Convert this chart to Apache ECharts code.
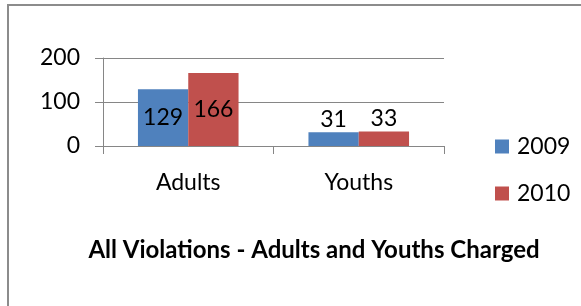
<!DOCTYPE html>
<html>
<head>
<meta charset="utf-8">
<script src="https://cdn.jsdelivr.net/npm/echarts@6/dist/echarts.min.js"></script>
<style>
  html, body { margin: 0; padding: 0; background: #fff; }
  #chart { width: 581px; height: 306px; }
</style>
</head>
<body>
<div id="chart"></div>
<script>
// chart data
var categories = ["Adults", "Youths"];
var values2009 = [129, 31];
var values2010 = [166, 33];
var seriesNames = ["2009", "2010"];
var yTicks = { min: 0, max: 200, step: 100 };

var font = "Lato, 'Open Sans', sans-serif";
var gridGray = "#868686";

// small bars get label on top, tall ones in the middle
function withLabels (vals) {
  return vals.map(function (v) {
    return {
      value: v,
      label: { position: v > 60 ? "inside" : "top", distance: 1 }
    };
  });
}

var chart = echarts.init(document.getElementById("chart"));
chart.setOption({
  animation: false,
  textStyle: { fontFamily: font },
  color: ["#4F81BD", "#C0504D"],
  graphic: [{
    type: "rect",
    shape: { x: 8, y: 5, width: 700, height: 500 },
    style: { fill: "none", stroke: "#8c8c8c", lineWidth: 2 },
    z: -1
  }],
  title: {
    text: "All Violations - Adults and Youths Charged",
    left: 309,
    top: 233,
    textAlign: "center",
    textStyle: { fontFamily: font, fontSize: 24, fontWeight: "bold", color: "#000" }
  },
  legend: {
    orient: "vertical",
    left: 490,
    top: 130,
    itemWidth: 14,
    itemHeight: 14,
    itemGap: 24,
    icon: "rect",
    textStyle: { fontFamily: font, fontSize: 23, color: "#000", padding: [0, 0, 0, 3] },
    data: seriesNames
  },
  grid: { left: 103, right: 137, top: 58, bottom: 160 },
  xAxis: {
    type: "category",
    data: categories,
    axisLine: { lineStyle: { color: gridGray } },
    axisTick: { show: true, length: 8, lineStyle: { color: gridGray } },
    axisLabel: { fontFamily: font, fontSize: 23, color: "#000", margin: 25 }
  },
  yAxis: {
    type: "value",
    min: yTicks.min,
    max: yTicks.max,
    interval: yTicks.step,
    axisLine: { show: true, lineStyle: { color: gridGray } },
    axisTick: { show: true, length: 8, lineStyle: { color: gridGray } },
    splitLine: { lineStyle: { color: gridGray } },
    axisLabel: { fontFamily: font, fontSize: 23, color: "#000", margin: 23 }
  },
  series: [
    {
      name: seriesNames[0],
      type: "bar",
      data: withLabels(values2009),
      barGap: "0%",
      barCategoryGap: "41%",
      label: { show: true, fontFamily: font, fontSize: 23, color: "#000" }
    },
    {
      name: seriesNames[1],
      type: "bar",
      data: withLabels(values2010),
      label: { show: true, fontFamily: font, fontSize: 23, color: "#000" }
    }
  ]
});
</script>
</body>
</html>
